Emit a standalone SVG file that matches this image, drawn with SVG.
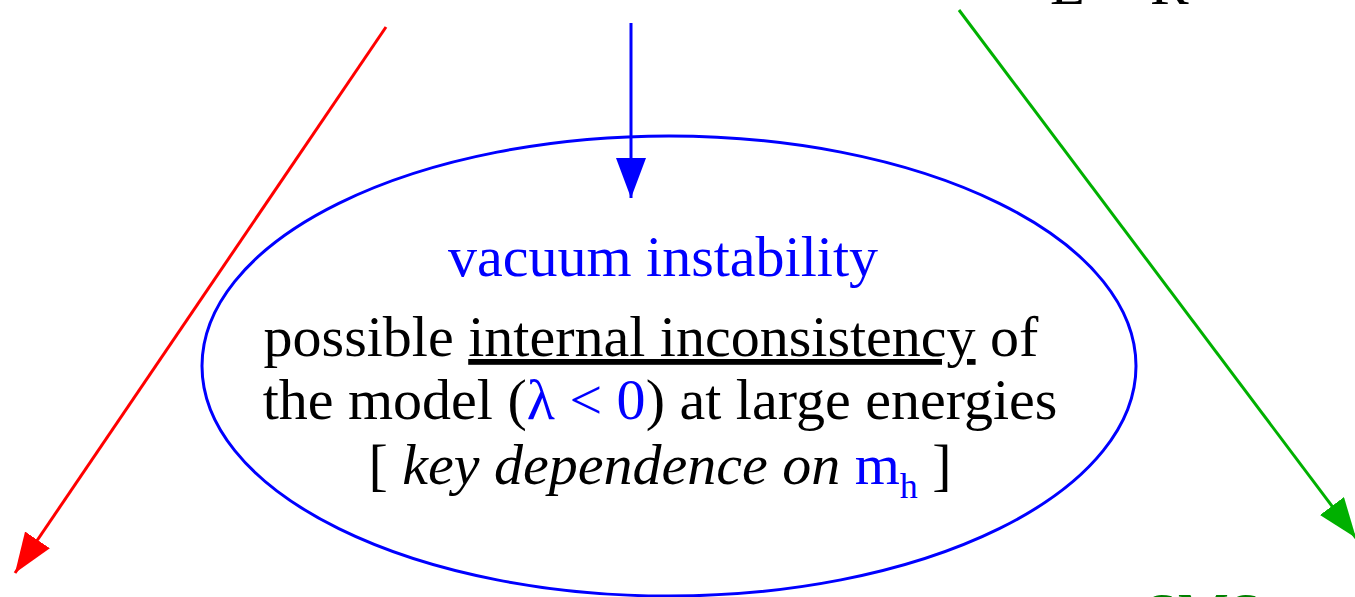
<svg xmlns="http://www.w3.org/2000/svg" width="1355" height="597" viewBox="0 0 1355 597">
<style>
.t{font-family:"Liberation Serif","Times New Roman",serif;font-size:58px;fill:#000}
.b{fill:#0000ff}
.g{fill:#008000}
</style>
<defs>
<marker id="ar" markerUnits="userSpaceOnUse" markerWidth="44" markerHeight="34" refX="40" refY="15" orient="auto"><path d="M0,0 L40,15 L0,30 Z" fill="#ff0000"/></marker>
<marker id="ab" markerUnits="userSpaceOnUse" markerWidth="44" markerHeight="34" refX="40" refY="15" orient="auto"><path d="M0,0 L40,15 L0,30 Z" fill="#0000ff"/></marker>
<marker id="ag" markerUnits="userSpaceOnUse" markerWidth="44" markerHeight="34" refX="40" refY="15" orient="auto"><path d="M0,0 L40,15 L0,30 Z" fill="#00b000"/></marker>
</defs>
<rect width="1355" height="597" fill="#fff"/>
<g id="connectors" fill="none" stroke-width="3">
<line x1="386" y1="27" x2="15" y2="573" stroke="#ff0000" marker-end="url(#ar)"/>
<line x1="631" y1="23" x2="631" y2="198" stroke="#0000ff" marker-end="url(#ab)"/>
<line x1="959" y1="10" x2="1356" y2="538" stroke="#00b000" marker-end="url(#ag)"/>
</g>
<g id="vacuum">
<ellipse cx="669" cy="366" rx="467" ry="230" fill="none" stroke="#0000ff" stroke-width="3"/>
<text class="t b" x="663" y="276" text-anchor="middle">vacuum instability</text>
<text class="t" x="651" y="356" text-anchor="middle">possible <tspan text-decoration="underline">internal inconsistency</tspan> of</text>
<text class="t" x="660" y="419" text-anchor="middle">the model (<tspan class="b">λ &lt; 0</tspan>) at large energies</text>
<text class="t" x="660" y="484" text-anchor="middle">[ <tspan font-style="italic">key dependence on</tspan> <tspan class="b">m<tspan font-size="36" dy="14">h</tspan></tspan><tspan dy="-14"> ]</tspan></text>
</g>
<g id="top-fragment">
<text class="t" x="1050" y="4" font-size="32">L</text>
<text class="t" x="1150" y="4" font-size="32">R</text>
</g>
<g id="bottom-fragment">
<text class="t g" x="1145" y="633">SMS</text>
</g>
</svg>
